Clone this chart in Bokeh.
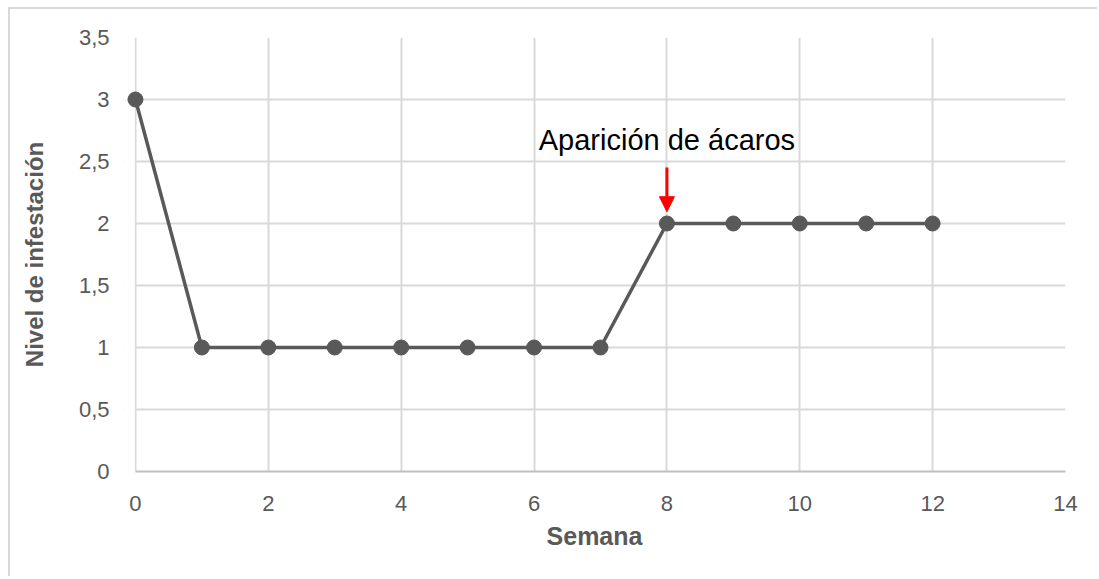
from bokeh.plotting import figure
from bokeh.models import (ColumnDataSource, FixedTicker, CustomJSTickFormatter, Arrow, NormalHead,
                          Label, Range1d, BoxAnnotation)
from bokeh.embed import file_html
from bokeh.resources import INLINE

semana = [0, 1, 2, 3, 4, 5, 6, 7, 8, 9, 10, 11, 12]
nivel = [3, 1, 1, 1, 1, 1, 1, 1, 2, 2, 2, 2, 2]
x_ticks = [0, 2, 4, 6, 8, 10, 12, 14]
y_ticks = [0, 0.5, 1, 1.5, 2, 2.5, 3, 3.5]
annot_text = "Aparición de ácaros"
annot_x = 8
annot_text_y = 2.67
arrow_y_start = 2.452
arrow_y_end = 2.095

FONT = "Liberation Sans"
GRAY = "#595959"
PAD = 0.18  # small extra room left of 0 so the first marker is not clipped

p = figure(width=1089, height=569, output_backend="svg", toolbar_location=None,
           x_range=Range1d(x_ticks[0] - PAD, x_ticks[-1]), y_range=Range1d(y_ticks[0], y_ticks[-1]),
           min_border_left=113, min_border_right=34, min_border_top=28, min_border_bottom=107,
           margin=(7, 0, 0, 8))
p.styles = {"border-top": "2px solid #d9d9d9", "border-left": "2px solid #d9d9d9"}
p.outline_line_color = None
p.background_fill_color = "white"
p.border_fill_color = "white"

p.xaxis.ticker = FixedTicker(ticks=x_ticks)
p.yaxis.ticker = FixedTicker(ticks=y_ticks)
p.yaxis.formatter = CustomJSTickFormatter(code="return tick.toString().replace('.', ',');")
for ax in (p.xaxis, p.yaxis):
    ax.major_tick_line_color = None
    ax.minor_tick_line_color = None
    ax.major_label_text_font = FONT
    ax.major_label_text_font_size = "22px"
    ax.major_label_text_color = GRAY
    ax.axis_label_text_font = FONT
    ax.axis_label_text_font_style = "bold"
    ax.axis_label_text_color = GRAY
p.xaxis.axis_label_text_font_size = "25px"
p.yaxis.axis_label_text_font_size = "24px"
p.xaxis.axis_line_color = "#bfbfbf"
p.xaxis.axis_line_width = 2
p.xaxis.bounds = (x_ticks[0], x_ticks[-1])
p.yaxis.axis_line_color = None
p.xaxis.major_label_standoff = 18
p.yaxis.major_label_standoff = 8
p.xaxis.axis_label = "Semana"
p.yaxis.axis_label = "Nivel de infestación"
p.xaxis.axis_label_standoff = 8
p.yaxis.axis_label_standoff = 28

p.xgrid.ticker = FixedTicker(ticks=x_ticks)
p.ygrid.ticker = FixedTicker(ticks=y_ticks)
p.grid.grid_line_color = "#d9d9d9"
p.grid.grid_line_width = 2

# white cover for the small padding strip left of x=0
p.add_layout(BoxAnnotation(right=x_ticks[0] - 0.012, fill_color="white", fill_alpha=1.0,
                           line_color=None, level="underlay"))

src = ColumnDataSource(dict(x=semana, y=nivel))
p.line("x", "y", source=src, line_color=GRAY, line_width=3.5)
p.scatter("x", "y", source=src, size=15, fill_color=GRAY, line_color=GRAY)

p.add_layout(Label(x=annot_x, y=annot_text_y, text=annot_text, text_align="center",
                   text_baseline="alphabetic", text_font=FONT, text_font_size="29px",
                   text_color="black"))
p.add_layout(Arrow(end=NormalHead(size=15, fill_color="red", line_color="red"),
                   x_start=annot_x, y_start=arrow_y_start, x_end=annot_x, y_end=arrow_y_end,
                   line_color="red", line_width=3))

open("out.html", "w").write(file_html(p, INLINE))
